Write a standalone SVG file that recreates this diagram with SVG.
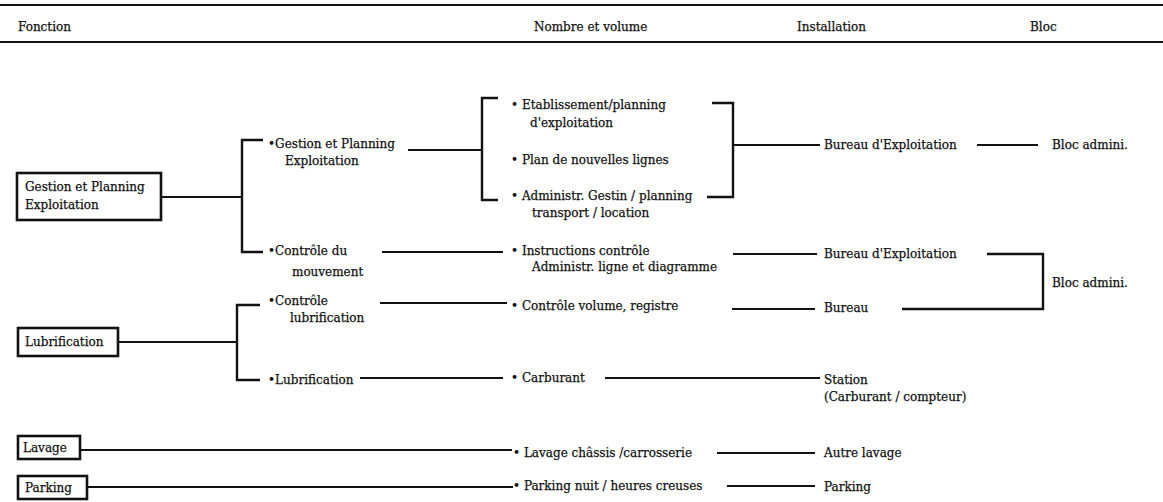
<svg xmlns="http://www.w3.org/2000/svg" width="1163" height="502" viewBox="0 0 1163 502">
  <style>
    .t { font-family: "DejaVu Serif", "Liberation Serif", serif; font-size: 12px; fill: #111; stroke: #111; stroke-width: 0.25; }
    .c { stroke: #111; stroke-width: 1.8; fill: none; }
    .k { stroke: #111; stroke-width: 2.4; fill: none; }
    .box { fill: #fff; stroke: #111; stroke-width: 2.6; }
    .rule { stroke: #111; stroke-width: 2.2; }
  </style>
  <rect width="1163" height="502" fill="#fff"/>

  <g id="header">
    <line class="rule" x1="0" y1="5" x2="1163" y2="5"/>
    <line class="rule" x1="0" y1="42" x2="1163" y2="42"/>
    <text class="t" x="18" y="31">Fonction</text>
    <text class="t" x="534" y="31">Nombre et volume</text>
    <text class="t" x="797" y="31">Installation</text>
    <text class="t" x="1030" y="31">Bloc</text>
  </g>

  <g id="connectors">
    <path class="c" d="M161 197 H242"/>
    <path class="k" d="M263 140 H242 V252 H263"/>
    <path class="c" d="M408 150 H482"/>
    <path class="k" d="M498 98 H482 V200 H498"/>
    <path class="k" d="M712 103 H733 V197 H707"/>
    <path class="c" d="M733 145 H820"/>
    <path class="c" d="M977 145 H1038"/>
    <path class="c" d="M382 252 H503"/>
    <path class="c" d="M733 254 H817"/>
    <path class="k" d="M987 254 H1043 V309 H902"/>
    <path class="c" d="M732 309 H815"/>
    <path class="c" d="M118 342 H237"/>
    <path class="k" d="M260 305 H237 V380 H260"/>
    <path class="c" d="M380 303 H507"/>
    <path class="c" d="M360 378 H503"/>
    <path class="c" d="M605 378 H820"/>
    <path class="c" d="M80 450 H512"/>
    <path class="c" d="M717 453 H815"/>
    <path class="c" d="M87 487 H513"/>
    <path class="c" d="M727 486 H815"/>
  </g>

  <g id="node-gestion-box">
    <rect class="box" x="17" y="173" width="144" height="47"/>
    <text class="t" x="25" y="191">Gestion et Planning</text>
    <text class="t" x="25" y="209">Exploitation</text>
  </g>
  <g id="node-lubrification-box">
    <rect class="box" x="18" y="328" width="100" height="28"/>
    <text class="t" x="25" y="346">Lubrification</text>
  </g>
  <g id="node-lavage-box">
    <rect class="box" x="18" y="436" width="62" height="23"/>
    <text class="t" x="23" y="452">Lavage</text>
  </g>
  <g id="node-parking-box">
    <rect class="box" x="18" y="476" width="69" height="23"/>
    <text class="t" x="25" y="492">Parking</text>
  </g>

  <g id="node-f-gestion">
    <text class="t" x="268" y="148">•Gestion et Planning</text>
    <text class="t" x="285" y="165">Exploitation</text>
  </g>
  <g id="node-f-controle-mvt">
    <text class="t" x="268" y="255">•Contrôle du</text>
    <text class="t" x="292" y="276">mouvement</text>
  </g>
  <g id="node-f-controle-lub">
    <text class="t" x="268" y="305">•Contrôle</text>
    <text class="t" x="290" y="322">lubrification</text>
  </g>
  <g id="node-f-lub">
    <text class="t" x="268" y="384">•Lubrification</text>
  </g>

  <g id="node-n-etab">
    <text class="t" x="511" y="109">• Etablissement/planning</text>
    <text class="t" x="530" y="127">d'exploitation</text>
  </g>
  <g id="node-n-plan">
    <text class="t" x="511" y="164">• Plan de nouvelles lignes</text>
  </g>
  <g id="node-n-admin">
    <text class="t" x="511" y="200">• Administr. Gestin / planning</text>
    <text class="t" x="532" y="217">transport / location</text>
  </g>
  <g id="node-n-instr">
    <text class="t" x="511" y="255">• Instructions contrôle</text>
    <text class="t" x="532" y="271">Administr. ligne et diagramme</text>
  </g>
  <g id="node-n-volume">
    <text class="t" x="511" y="310">• Contrôle volume,  registre</text>
  </g>
  <g id="node-n-carburant">
    <text class="t" x="511" y="382">• Carburant</text>
  </g>
  <g id="node-n-lavage">
    <text class="t" x="513" y="457">• Lavage châssis /carrosserie</text>
  </g>
  <g id="node-n-parking">
    <text class="t" x="513" y="490">• Parking nuit / heures creuses</text>
  </g>

  <g id="node-i-bureau1">
    <text class="t" x="824" y="149">Bureau d'Exploitation</text>
  </g>
  <g id="node-i-bureau2">
    <text class="t" x="824" y="258">Bureau d'Exploitation</text>
  </g>
  <g id="node-i-bureau3">
    <text class="t" x="824" y="312">Bureau</text>
  </g>
  <g id="node-i-station">
    <text class="t" x="824" y="384">Station</text>
    <text class="t" x="824" y="401">(Carburant / compteur)</text>
  </g>
  <g id="node-i-lavage">
    <text class="t" x="824" y="457">Autre lavage</text>
  </g>
  <g id="node-i-parking">
    <text class="t" x="824" y="491">Parking</text>
  </g>

  <g id="node-b-bloc1">
    <text class="t" x="1052" y="149">Bloc admini.</text>
  </g>
  <g id="node-b-bloc2">
    <text class="t" x="1052" y="287">Bloc admini.</text>
  </g>
</svg>
